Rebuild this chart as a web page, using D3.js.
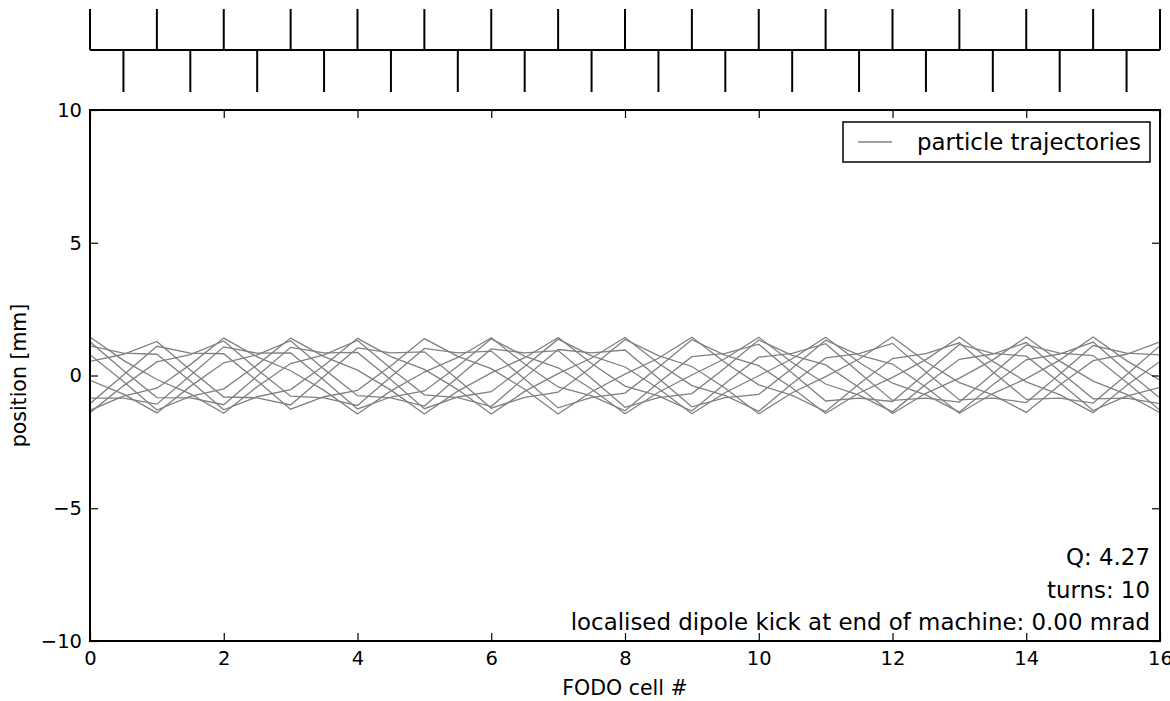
<!DOCTYPE html>
<html>
<head>
<meta charset="utf-8">
<script src="https://cdn.jsdelivr.net/npm/d3@7"></script>
<style>
  body { margin: 0; background: #fff; }
  svg { font-family: "DejaVu Sans", sans-serif; }
</style>
</head>
<body>
<svg id="chart"></svg>
<script>
// quad positions along the machine (FODO cell #)
var positions = [0, 0.5, 1, 1.5, 2, 2.5, 3, 3.5, 4, 4.5, 5, 5.5, 6, 6.5, 7, 7.5, 8,
  8.5, 9, 9.5, 10, 10.5, 11, 11.5, 12, 12.5, 13, 13.5, 14, 14.5, 15, 15.5, 16];

// lattice sketch: focusing quads up, defocusing quads down
var focusQuads = [0, 1, 2, 3, 4, 5, 6, 7, 8, 9, 10, 11, 12, 13, 14, 15, 16];
var defocusQuads = [0.5, 1.5, 2.5, 3.5, 4.5, 5.5, 6.5, 7.5, 8.5, 9.5, 10.5, 11.5, 12.5, 13.5, 14.5, 15.5];

// particle position [mm] at each quad, one list per turn
var turn0 = [1.45, 0.57, -0.15, -0.69, -1.42, -0.42, 0.45, 0.78, 1.32, 0.26, -0.73, -0.83, -1.17, -0.08, 0.98, 0.85, 0.96,
  -0.10, -1.18, -0.83, -0.71, 0.27, 1.33, 0.77, 0.43, -0.44, -1.42, -0.68, -0.12, 0.58, 1.45, 0.56, -0.18];
var turn1 = [-0.18, -0.70, -1.41, -0.41, 0.48, 0.78, 1.31, 0.24, -0.76, -0.84, -1.15, -0.07, 1.00, 0.85, 0.94, -0.11, -1.20,
  -0.83, -0.68, 0.29, 1.34, 0.76, 0.40, -0.45, -1.43, -0.67, -0.10, 0.59, 1.45, 0.54, -0.21, -0.71, -1.40];
var turn2 = [-1.40, -0.39, 0.51, 0.79, 1.30, 0.23, -0.78, -0.84, -1.13, -0.05, 1.02, 0.85, 0.92, -0.13, -1.22, -0.82, -0.66,
  0.31, 1.35, 0.76, 0.37, -0.47, -1.43, -0.66, -0.07, 0.60, 1.45, 0.53, -0.24, -0.72, -1.40, -0.38, 0.53];
var turn3 = [0.53, 0.80, 1.28, 0.21, -0.81, -0.84, -1.11, -0.03, 1.04, 0.85, 0.89, -0.15, -1.23, -0.82, -0.63, 0.32, 1.36,
  0.75, 0.34, -0.48, -1.44, -0.65, -0.04, 0.62, 1.45, 0.52, -0.27, -0.73, -1.39, -0.36, 0.56, 0.80, 1.27];
var turn4 = [1.27, 0.19, -0.83, -0.84, -1.10, -0.02, 1.06, 0.85, 0.87, -0.16, -1.25, -0.81, -0.61, 0.34, 1.37, 0.74, 0.32,
  -0.49, -1.44, -0.64, -0.01, 0.63, 1.44, 0.50, -0.29, -0.73, -1.38, -0.35, 0.59, 0.81, 1.26, 0.18, -0.85];
var turn5 = [-0.85, -0.85, -1.08, 0.00, 1.08, 0.84, 0.85, -0.18, -1.26, -0.81, -0.58, 0.35, 1.38, 0.73, 0.29, -0.51, -1.44,
  -0.63, 0.02, 0.64, 1.44, 0.49, -0.32, -0.74, -1.37, -0.33, 0.61, 0.81, 1.24, 0.16, -0.88, -0.85, -1.06];
var turn6 = [-1.06, 0.02, 1.10, 0.84, 0.82, -0.20, -1.27, -0.80, -0.56, 0.37, 1.39, 0.72, 0.26, -0.52, -1.45, -0.61, 0.05,
  0.65, 1.44, 0.48, -0.35, -0.75, -1.36, -0.32, 0.64, 0.82, 1.23, 0.14, -0.90, -0.85, -1.04, 0.03, 1.12];
var turn7 = [1.12, 0.84, 0.80, -0.21, -1.29, -0.80, -0.53, 0.38, 1.40, 0.71, 0.23, -0.53, -1.45, -0.60, 0.07, 0.66, 1.43,
  0.46, -0.38, -0.76, -1.35, -0.30, 0.66, 0.82, 1.21, 0.13, -0.92, -0.85, -1.02, 0.05, 1.13, 0.84, 0.78];
var turn8 = [0.78, -0.23, -1.30, -0.79, -0.50, 0.40, 1.41, 0.71, 0.20, -0.55, -1.45, -0.59, 0.10, 0.67, 1.43, 0.45, -0.40,
  -0.77, -1.34, -0.29, 0.69, 0.83, 1.20, 0.11, -0.94, -0.85, -1.00, 0.07, 1.15, 0.84, 0.75, -0.25, -1.31];
var turn9 = [-1.31, -0.78, -0.48, 0.41, 1.41, 0.70, 0.18, -0.56, -1.45, -0.58, 0.13, 0.68, 1.42, 0.43, -0.43, -0.77, -1.33,
  -0.27, 0.71, 0.83, 1.18, 0.09, -0.96, -0.85, -0.98, 0.09, 1.17, 0.83, 0.73, -0.26, -1.32, -0.78, -0.45];
var turns = [turn0, turn1, turn2, turn3, turn4, turn5, turn6, turn7, turn8, turn9];

var xTicks = [0, 2, 4, 6, 8, 10, 12, 14, 16];
var yTicks = [-10, -5, 0, 5, 10];
var notes = ["Q: 4.27", "turns: 10", "localised dipole kick at end of machine: 0.00 mrad"];

//dimensions constant
const dimensions = {
  width: 1070,
  height: 531,
  margin: {
    top: 110,
    bottom: 60,
    right: 10,
    left: 90,
  },
};

var svg = d3
  .select("#chart")
  .attr("width", dimensions.width + dimensions.margin.left + dimensions.margin.right)
  .attr("height", dimensions.height + dimensions.margin.top + dimensions.margin.bottom);

var xScale = d3.scaleLinear().domain([0, 16]).range([0, dimensions.width]);
var yScale = d3.scaleLinear().domain([-10, 10]).range([dimensions.height, 0]);

// lattice sketch above the plot
var lattice = svg.append("g").attr("transform", "translate(" + dimensions.margin.left + ",0)");
lattice
  .append("line")
  .attr("x1", xScale(0))
  .attr("x2", xScale(16))
  .attr("y1", 50)
  .attr("y2", 50)
  .attr("stroke", "#000")
  .attr("stroke-width", 2);
lattice
  .selectAll(".fq")
  .data(focusQuads)
  .enter()
  .append("line")
  .attr("x1", (d) => xScale(d))
  .attr("x2", (d) => xScale(d))
  .attr("y1", 9)
  .attr("y2", 50)
  .attr("stroke", "#000")
  .attr("stroke-width", 2);
lattice
  .selectAll(".dq")
  .data(defocusQuads)
  .enter()
  .append("line")
  .attr("x1", (d) => xScale(d))
  .attr("x2", (d) => xScale(d))
  .attr("y1", 50)
  .attr("y2", 92)
  .attr("stroke", "#000")
  .attr("stroke-width", 2);

var g = svg
  .append("g")
  .attr("transform", "translate(" + dimensions.margin.left + "," + dimensions.margin.top + ")");

g.append("clipPath")
  .attr("id", "clip")
  .append("rect")
  .attr("width", dimensions.width)
  .attr("height", dimensions.height);

// trajectories
var line = d3
  .line()
  .x((d, i) => xScale(positions[i]))
  .y((d) => yScale(d));

g.append("g")
  .attr("clip-path", "url(#clip)")
  .selectAll("path")
  .data(turns)
  .enter()
  .append("path")
  .attr("d", line)
  .attr("fill", "none")
  .attr("stroke", "#808080")
  .attr("stroke-width", 1.3);

// axes, ticks pointing inwards
var bottomAxis = g
  .append("g")
  .attr("transform", "translate(0," + dimensions.height + ")")
  .call(d3.axisBottom(xScale).tickValues(xTicks).tickSize(-8).tickPadding(10).tickFormat(d3.format("d")));
var leftAxis = g
  .append("g")
  .call(d3.axisLeft(yScale).tickValues(yTicks).tickSize(-8).tickPadding(8).tickFormat(d3.format("d")));
var topAxis = g.append("g").call(d3.axisTop(xScale).tickValues(xTicks).tickSize(-8).tickFormat(""));
var rightAxis = g
  .append("g")
  .attr("transform", "translate(" + dimensions.width + ",0)")
  .call(d3.axisRight(yScale).tickValues(yTicks).tickSize(-8).tickFormat(""));

[bottomAxis, leftAxis, topAxis, rightAxis].forEach(function (a) {
  a.select(".domain").remove();
  a.selectAll("line").attr("stroke", "#000").attr("stroke-width", 1.2);
  a.selectAll("text").attr("font-size", 19.5).attr("font-family", "DejaVu Sans").attr("fill", "#000");
});

// frame
g.append("rect")
  .attr("width", dimensions.width)
  .attr("height", dimensions.height)
  .attr("fill", "none")
  .attr("stroke", "#000")
  .attr("stroke-width", 2);

// axis labels
svg
  .append("text")
  .attr("x", dimensions.margin.left + dimensions.width / 2)
  .attr("y", 695)
  .attr("text-anchor", "middle")
  .attr("font-size", 20.5)
  .text("FODO cell #");

svg
  .append("text")
  .attr("transform", "translate(26," + (dimensions.margin.top + dimensions.height / 2) + ")rotate(-90)")
  .attr("text-anchor", "middle")
  .attr("font-size", 20.5)
  .text("position [mm]");

// notes bottom right
g.selectAll(".note")
  .data(notes)
  .enter()
  .append("text")
  .attr("x", dimensions.width - 10)
  .attr("y", (d, i) => dimensions.height - 76 + i * 32.5)
  .attr("text-anchor", "end")
  .attr("font-size", 22.9)
  .text((d) => d);

// legend
var legend = g.append("g").attr("transform", "translate(" + (dimensions.width - 317) + ",12)");
legend
  .append("rect")
  .attr("width", 307)
  .attr("height", 40)
  .attr("fill", "#fff")
  .attr("stroke", "#000")
  .attr("stroke-width", 1.5);
legend
  .append("line")
  .attr("x1", 15)
  .attr("x2", 49)
  .attr("y1", 20)
  .attr("y2", 20)
  .attr("stroke", "#808080")
  .attr("stroke-width", 1.3);
legend
  .append("text")
  .attr("x", 74)
  .attr("y", 28)
  .attr("font-size", 22.9)
  .text("particle trajectories");
</script>
</body>
</html>
